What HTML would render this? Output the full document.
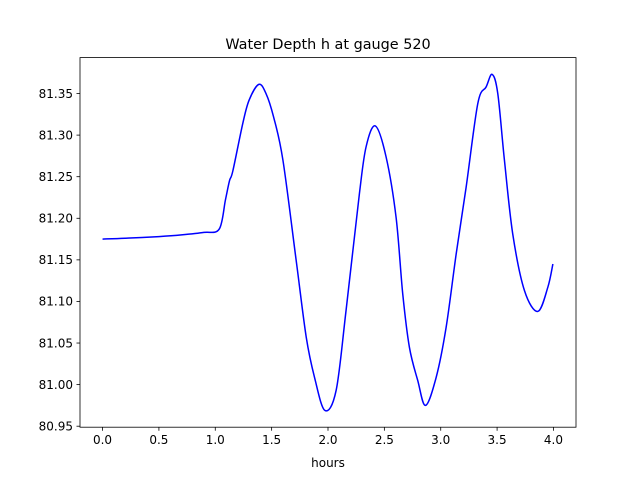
<!DOCTYPE html>
<html><head><meta charset="utf-8"><style>
html,body{margin:0;padding:0;background:#fff;}
svg{display:block;font-family:"DejaVu Sans","Liberation Sans",sans-serif;}
</style></head><body>
<svg id="chart" width="640" height="480" viewBox="0 0 640 480">
<rect x="0" y="0" width="640" height="480" fill="#fff"/>
<text x="328" y="49" font-size="14.4" text-anchor="middle" fill="#000">Water Depth h at gauge 520</text>
<g id="plot"></g>
<text x="328" y="467" font-size="12" text-anchor="middle" fill="#000">hours</text>
</svg>
<script>
const times = [0,0.2,0.5,0.7,0.9,1.035,1.09,1.126,1.156,1.244,1.3,1.386,1.45,1.517,1.6,1.718,1.807,1.88,1.972,2.072,2.16,2.279,2.338,2.42,2.515,2.604,2.663,2.722,2.796,2.865,2.96,3.048,3.137,3.225,3.329,3.403,3.456,3.506,3.565,3.639,3.743,3.861,3.95,3.995];
const depth = [81.175,81.176,81.178,81.180,81.183,81.187,81.222,81.245,81.257,81.314,81.342,81.361,81.350,81.322,81.27,81.149,81.057,81.009,80.969,80.993,81.089,81.23,81.286,81.311,81.274,81.201,81.109,81.045,81.005,80.975,81.009,81.069,81.157,81.237,81.338,81.358,81.373,81.35,81.27,81.181,81.113,81.088,81.117,81.145];
const xTicks = [0,0.5,1.0,1.5,2.0,2.5,3.0,3.5,4.0];
const xTickLabels = ["0.0","0.5","1.0","1.5","2.0","2.5","3.0","3.5","4.0"];
const yTicks = [80.95,81.00,81.05,81.10,81.15,81.20,81.25,81.30,81.35];
const yTickLabels = ["80.95","81.00","81.05","81.10","81.15","81.20","81.25","81.30","81.35"];

const L=80,R=576,T=57.6,B=427.2;
const xmin=-0.2,xmax=4.2,ymin=80.9488,ymax=81.3932;
const sx=v=>L+(v-xmin)/(xmax-xmin)*(R-L);
const sy=v=>B-(v-ymin)/(ymax-ymin)*(B-T);
const NS="http://www.w3.org/2000/svg";
const g=document.getElementById('plot');
function mk(tag,attrs){const e=document.createElementNS(NS,tag);for(const k in attrs)e.setAttribute(k,attrs[k]);g.appendChild(e);return e;}

const pts=times.map((t,i)=>[sx(t),sy(depth[i])]);
let d="M"+pts[0][0].toFixed(2)+","+pts[0][1].toFixed(2);
for(let i=0;i<pts.length-1;i++){
  const p0=pts[Math.max(0,i-1)],p1=pts[i],p2=pts[i+1],p3=pts[Math.min(pts.length-1,i+2)];
  const c1=[p1[0]+(p2[0]-p0[0])/6,p1[1]+(p2[1]-p0[1])/6];
  const c2=[p2[0]-(p3[0]-p1[0])/6,p2[1]-(p3[1]-p1[1])/6];
  d+=` C${c1[0].toFixed(2)},${c1[1].toFixed(2)} ${c2[0].toFixed(2)},${c2[1].toFixed(2)} ${p2[0].toFixed(2)},${p2[1].toFixed(2)}`;
}
const line=mk('path',{d:d,fill:'none',stroke:'#0000ff','stroke-width':1.5,'stroke-linejoin':'round'});



const fr=mk('rect',{x:L,y:T,width:R-L,height:B-T,fill:'none',stroke:'#000','stroke-width':0.8});



xTicks.forEach((v,i)=>{
  const x=sx(v);
  const t=mk('line',{x1:x,x2:x,y1:B,y2:B+3.5,stroke:'#000','stroke-width':0.8});
  
  
  const tx=mk('text',{x:x,y:B+17,'font-size':12,'text-anchor':'middle',fill:'#000'});
  tx.textContent=xTickLabels[i];
  
  
});
yTicks.forEach((v,i)=>{
  const y=sy(v);
  const t=mk('line',{x1:L-3.5,x2:L,y1:y,y2:y,stroke:'#000','stroke-width':0.8});
  
  
  const tx=mk('text',{x:L-7,y:y+4.3,'font-size':12,'text-anchor':'end',fill:'#000'});
  tx.textContent=yTickLabels[i];
  
  
});
</script>
</body></html>
